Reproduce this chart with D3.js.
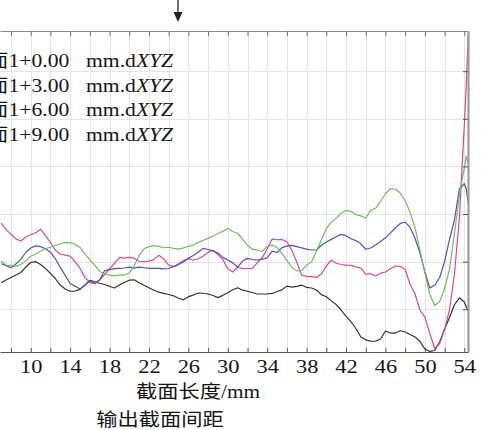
<!DOCTYPE html>
<html>
<head>
<meta charset="utf-8">
<script src="https://cdn.jsdelivr.net/npm/d3@7"></script>
<style>
  html, body { margin: 0; padding: 0; background: #fff; overflow: hidden; }
  svg { display: block; }
  svg text { font-family: "Liberation Serif", "Noto Sans CJK SC", serif; fill: #151515; }
</style>
</head>
<body>
<svg id="chart" width="488" height="430"></svg>
<script>
// Section length along the part (mm), shared by every profile
const lengthMm = [
  7,7.5,8,8.5,9,9.5,10,10.5,11,11.5,
  12,12.5,13,13.5,14,14.5,15,15.5,16,16.5,
  17,17.5,18,18.5,19,19.5,20,20.5,21,21.5,
  22,22.5,23,23.5,24,24.5,25,25.5,26,26.5,
  27,27.5,28,28.5,29,29.5,30,30.5,31,31.5,
  32,32.5,33,33.5,34,34.5,35,35.5,36,36.5,
  37,37.5,38,38.5,39,39.5,40,40.5,41,41.5,
  42,42.5,43,43.5,44,44.5,45,45.5,46,46.5,
  47,47.5,48,48.5,49,49.5,50,50.5,51,51.5,
  52,52.5,53,53.5,54,54.2,54.4
];

// dXYZ deviation of each output section
const dev000 = [
  -72.1,-69.3,-66.7,-64.1,-61.4,-55.7,-50.9,-49.9,-53.0,-57.2,
  -62.3,-67.7,-74.6,-78.8,-81.1,-80.9,-79.1,-74.6,-69.6,-71.1,
  -72.7,-74.0,-75.8,-77.7,-74.6,-71.9,-69.5,-69.1,-72.2,-74.9,
  -77.5,-80.1,-82.1,-83.3,-84.5,-85.9,-88.5,-90.1,-86.8,-85.1,
  -83.0,-83.2,-84.0,-85.6,-87.8,-85.4,-82.6,-79.5,-77.5,-80.0,
  -81.1,-82.4,-84.0,-84.0,-84.0,-83.4,-81.4,-79.6,-75.7,-76.7,
  -75.9,-74.6,-77.1,-77.7,-79.8,-84.6,-86.9,-91.2,-95.1,-100.8,
  -107.5,-113.1,-120.2,-129.2,-132.1,-133.4,-133.6,-131.3,-122.9,-125.0,
  -125.0,-122.6,-123.9,-126.5,-129.2,-133.9,-141.8,-144.3,-143.3,-134.4,
  -120.8,-108.7,-95.3,-88.0,-92.4,-97.7,-101.3
];
const dev300 = [
  -9.5,-16.1,-21.3,-26.1,-28.4,-24.2,-21.8,-19.7,-15.9,-22.8,
  -29.7,-38.0,-42.0,-43.1,-44.3,-50.1,-57.0,-66.5,-72.1,-72.8,
  -69.3,-63.5,-57.4,-52.0,-45.6,-46.3,-45.6,-46.4,-49.6,-50.1,
  -49.5,-47.9,-43.4,-47.0,-53.7,-55.2,-52.5,-48.9,-46.9,-48.3,
  -47.0,-44.0,-40.3,-38.0,-42.7,-47.9,-57.6,-60.9,-55.9,-57.4,
  -57.2,-57.2,-51.0,-45.8,-36.8,-26.3,-27.0,-26.7,-29.2,-38.3,
  -50.4,-64.1,-65.4,-65.8,-66.6,-62.8,-54.6,-48.5,-51.7,-53.0,
  -53.6,-53.9,-55.5,-56.7,-63.2,-62.7,-65.1,-62.1,-60.9,-57.4,
  -54.6,-54.9,-58.3,-73.7,-84.0,-100.8,-108.2,-125.5,-141.5,-136.0,
  -121.8,-100.3,-63.0,-4.2,93.5,135.5,188.0
];
const dev600 = [
  -52.2,-54.3,-56.3,-52.6,-47.3,-40.4,-35.7,-33.5,-34.2,-36.4,
  -40.1,-47.0,-55.9,-64.4,-72.9,-75.7,-78.8,-74.8,-70.4,-73.3,
  -69.3,-59.4,-58.3,-57.4,-57.0,-56.7,-55.7,-56.8,-55.7,-56.4,
  -57.0,-57.0,-57.0,-57.6,-57.2,-55.2,-53.1,-50.3,-46.4,-43.5,
  -40.1,-36.1,-37.3,-38.7,-41.0,-45.5,-48.2,-51.3,-55.7,-49.4,
  -46.6,-47.8,-48.3,-47.4,-46.0,-39.0,-40.4,-35.3,-33.7,-33.0,
  -34.3,-35.6,-36.9,-37.8,-37.8,-32.8,-29.3,-26.6,-23.9,-21.4,
  -22.7,-26.0,-27.9,-31.3,-37.0,-35.7,-32.6,-28.8,-25.0,-19.8,
  -14.7,-9.9,-8.6,-14.1,-25.5,-41.0,-60.9,-77.7,-74.6,-66.7,
  -49.9,-26.6,-6.3,26.5,31.8,26.3,11.2
];
const dev900 = [
  -49.5,-53.6,-53.9,-55.0,-53.1,-49.2,-44.4,-41.9,-39.1,-36.3,
  -34.9,-33.1,-31.5,-29.8,-30.2,-31.7,-35.1,-41.8,-48.1,-53.6,
  -60.3,-62.7,-64.1,-64.9,-64.2,-64.1,-62.0,-54.4,-43.5,-36.5,
  -34.2,-33.2,-34.0,-35.4,-34.9,-36.1,-36.9,-35.6,-33.9,-32.6,
  -30.0,-27.6,-25.6,-23.1,-20.5,-18.0,-15.1,-18.4,-20.2,-26.3,
  -32.9,-36.9,-38.0,-39.4,-34.1,-32.6,-35.4,-41.4,-48.9,-55.9,
  -59.7,-59.3,-53.6,-50.4,-38.9,-27.0,-15.3,-8.5,-4.3,0.9,
  3.6,2.8,-0.6,-1.9,-4.2,3.9,6.0,13.1,21.5,26.5,
  26.3,22.1,14.2,1.6,-14.2,-37.8,-62.0,-84.5,-96.1,-91.9,
  -78.2,-57.8,-21.0,20.0,48.3,60.9,53.6
];

const offsets = ["0.00", "3.00", "6.00", "9.00"];
const seriesColors = ["#333333", "#d8488d", "#5252b4", "#70bd5c"];
const xTicks = [8,10,12,14,16,18,20,22,24,26,28,30,32,34,36,38,40,42,44,46,48,50,52,54];
const xLabels = [10,14,18,22,26,30,34,38,42,46,50,54];
const yTicks = [-100,-50,0,50,100,150];
const xTitle = "截面长度/mm";
const caption = "输出截面间距";

const series = [dev000, dev300, dev600, dev900].map((vals, i) => ({
  label: offsets[i], color: seriesColors[i],
  points: lengthMm.map((m, j) => [m, vals[j]])
}));

const svg = d3.select("#chart");
const box = { left: 0, top: 31, right: 468, bottom: 352 };

const x = d3.scaleLinear().domain([6.885, 54.375]).range([box.left, box.right]);
const y = d3.scaleLinear().domain([-144.9, 192.2]).range([box.bottom, box.top]);

// grid
const grid = svg.append("g").attr("stroke", "#e4e4e4").attr("stroke-width", 1);
grid.selectAll("line.v").data(xTicks).join("line").attr("class", "v")
  .attr("x1", d => Math.round(x(d)) + 0.5).attr("x2", d => Math.round(x(d)) + 0.5)
  .attr("y1", box.top).attr("y2", box.bottom);
grid.selectAll("line.h").data(yTicks).join("line").attr("class", "h")
  .attr("y1", d => Math.round(y(d)) + 0.5).attr("y2", d => Math.round(y(d)) + 0.5)
  .attr("x1", box.left).attr("x2", box.right);

// profiles
svg.append("clipPath").attr("id", "plotClip").append("rect")
  .attr("x", box.left).attr("y", box.top)
  .attr("width", box.right - box.left).attr("height", box.bottom - box.top);
const line = d3.line().x(d => x(d[0])).y(d => y(d[1]));
svg.append("g").attr("clip-path", "url(#plotClip)")
  .selectAll("path").data(series).join("path")
  .attr("fill", "none").attr("stroke", d => d.color)
  .attr("stroke-width", 1.2).attr("stroke-linejoin", "round")
  .attr("d", d => line(d.points));

// top axis
const gTop = svg.append("g").attr("transform", `translate(0,${box.top})`)
  .call(d3.axisTop(x).tickValues(xTicks).tickSize(-5).tickSizeOuter(0).tickFormat(""));
gTop.select(".domain").attr("stroke", "#8a8a8a");
gTop.selectAll(".tick line").attr("stroke", "#707070");

// right axis
const gRight = svg.append("g").attr("transform", `translate(${box.right},0)`)
  .call(d3.axisRight(y).tickValues(yTicks).tickSize(-5).tickSizeOuter(0).tickFormat(""));
gRight.select(".domain").attr("stroke", "#9c9c9c").attr("stroke-width", 2.2);
gRight.selectAll(".tick line").attr("stroke", "#555");

// bottom axis
const gBottom = svg.append("g").attr("transform", `translate(0,${box.bottom})`)
  .call(d3.axisBottom(x).tickValues(xTicks).tickSize(-4).tickSizeOuter(0).tickPadding(7)
    .tickFormat(d => xLabels.includes(d) ? String(d) : ""));
gBottom.attr("font-family", null).attr("font-size", null);
gBottom.select(".domain").attr("stroke", "#555");
gBottom.selectAll(".tick line").attr("stroke", "#555");
gBottom.selectAll(".tick text")
  .attr("font-size", 19.5).attr("fill", null)
  .attr("transform", "scale(1.15,1)");

// axis title and caption
svg.append("text")
  .attr("transform", "translate(198,398) scale(1.15,1)")
  .attr("text-anchor", "middle").attr("font-size", 18.5).text(xTitle);
svg.append("text")
  .attr("transform", "translate(160,426) scale(1.15,1)")
  .attr("text-anchor", "middle").attr("font-size", 18.5).text(caption);

// legend labels
const legendBase = [67, 91.5, 116, 140.5];
const sx = 1.17, fs = 18.5;
series.forEach((s, i) => {
  const t = svg.append("text")
    .attr("transform", `translate(8.5,${legendBase[i]}) scale(${sx},1)`)
    .attr("font-size", fs);
  t.append("tspan").attr("x", -2 * fs).text(`截面1+${s.label}`);
  t.append("tspan").attr("x", (86 - 8.5) / sx).text("mm.d");
  t.append("tspan").attr("font-style", "italic").text("XYZ");
});

// marker arrow above the plot
svg.append("line").attr("x1", 178).attr("x2", 178).attr("y1", 0).attr("y2", 14)
  .attr("stroke", "#222").attr("stroke-width", 1.3);
svg.append("path").attr("d", "M173.5,12 L182.5,12 L178,22 Z").attr("fill", "#222");
</script>
</body>
</html>
